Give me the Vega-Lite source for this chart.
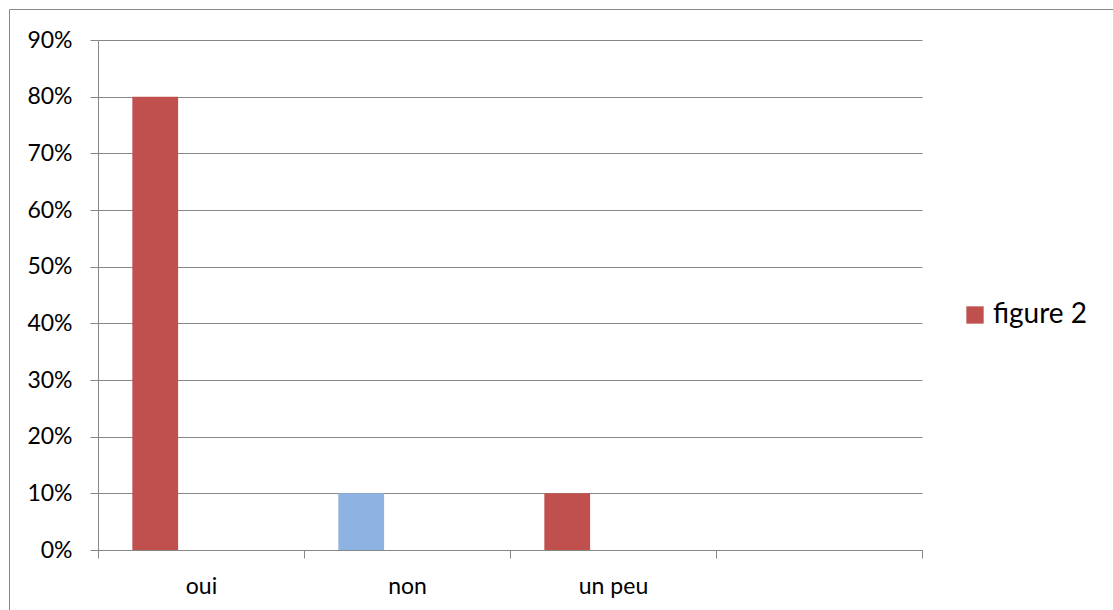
{
  "$schema": "https://vega.github.io/schema/vega-lite/v6.json",
  "width": 1110,
  "height": 610,
  "autosize": {"type": "none"},
  "padding": {"left": 9, "top": 9, "right": 0, "bottom": 0},
  "background": "white",
  "config": {
    "view": {"stroke": "#878787", "strokeWidth": 1},
    "font": "Lato"
  },
  "data": {
    "values": [
      {"reponse": "oui", "part": 0.8, "serie": "figure 2"},
      {"reponse": "non", "part": 0.1, "serie": "figure 2"},
      {"reponse": "un peu", "part": 0.1, "serie": "figure 2"}
    ]
  },
  "mark": {"type": "bar"},
  "encoding": {
    "x": {
      "field": "reponse",
      "type": "nominal",
      "sort": null,
      "scale": {"domain": ["oui", "non", "un peu", " "], "range": [89, 913], "paddingInner": 0, "paddingOuter": 0},
      "axis": {
        "orient": "bottom",
        "offset": -69,
        "title": null,
        "grid": false,
        "domainColor": "#878787",
        "tickColor": "#878787",
        "tickSize": 8,
        "tickBand": "extent",
        "labelAngle": 0,
        "labelDx": -3,
        "labelFont": "Lato",
        "labelFontSize": 23,
        "labelColor": "#000000",
        "labelBaseline": "alphabetic",
        "labelPadding": 35
      }
    },
    "xOffset": {
      "field": "serie",
      "type": "nominal",
      "scale": {"domain": ["figure 2", "série 2", "série 3"], "paddingInner": 0, "paddingOuter": 0.75}
    },
    "y": {
      "field": "part",
      "type": "quantitative",
      "scale": {"domain": [0, 0.9], "range": [541, 31], "nice": false, "zero": true},
      "axis": {
        "orient": "left",
        "offset": -89,
        "title": null,
        "values": [0, 0.1, 0.2, 0.3, 0.4, 0.5, 0.6, 0.7, 0.8, 0.9],
        "format": ".0%",
        "grid": true,
        "gridColor": "#878787",
        "gridOpacity": 1,
        "domainColor": "#878787",
        "tickColor": "#878787",
        "tickSize": 8,
        "labelPadding": 18,
        "labelFont": "Lato",
        "labelFontSize": 23,
        "labelColor": "#000000"
      }
    },
    "fill": {
      "condition": {"test": "datum.reponse === 'non'", "value": "#8DB3E2"},
      "field": "serie",
      "type": "nominal",
      "scale": {"domain": ["figure 2"], "range": ["#C0504D"]},
      "legend": {
        "title": null,
        "orient": "none",
        "legendX": 952,
        "legendY": 292,
        "padding": 0,
        "symbolOffset": 0,
        "symbolType": "square",
        "symbolSize": 300,
        "symbolStrokeWidth": 0,
        "labelFont": "Lato",
        "labelFontSize": 28,
        "labelColor": "#000000",
        "labelOffset": 4,
        "labelLimit": 300
      }
    }
  }
}
